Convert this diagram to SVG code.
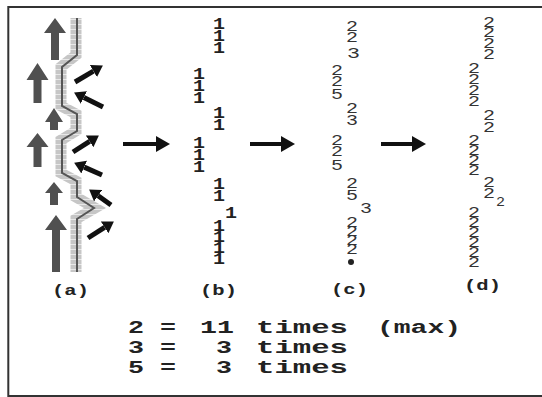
<svg xmlns="http://www.w3.org/2000/svg" width="542" height="397" viewBox="0 0 542 397">
<style>
.lab{font-family:"Liberation Mono","DejaVu Sans Mono",monospace;font-weight:bold;font-size:15px;fill:#222}
.one{font-family:"Liberation Mono","DejaVu Sans Mono",monospace;font-weight:bold;font-size:16px;fill:#222}
.two{font-family:"Liberation Mono","DejaVu Sans Mono",monospace;font-size:15px;fill:#333}
.cap{font-family:"Liberation Mono","DejaVu Sans Mono",monospace;font-weight:bold;font-size:18px;fill:#222}
.up{fill:#505050}
.bk{stroke:#111;stroke-width:5;fill:none}
.big{stroke:#111;stroke-width:4;fill:none}
</style>
<defs>
<marker id="hd" markerUnits="userSpaceOnUse" markerWidth="12" markerHeight="14" refX="0" refY="7" orient="auto"><path d="M0,0 L11,7 L0,14 z" fill="#111"/></marker>
<marker id="hb" markerUnits="userSpaceOnUse" markerWidth="15" markerHeight="16" refX="0" refY="8" orient="auto"><path d="M0,0 L14,8 L0,16 z" fill="#111"/></marker>
<pattern id="stripe" patternUnits="userSpaceOnUse" width="20" height="5"><rect width="20" height="5" fill="#c6c6c6"/><rect y="4" width="20" height="1" fill="#e8e8e8"/></pattern>
</defs>
<rect x="0" y="0" width="542" height="397" fill="#fff"/>
<rect x="8.3" y="7" width="545" height="389" fill="none" stroke="#333" stroke-width="2"/>

<g id="panel-a">
<polyline points="76,18 76,55 61,67 61,106 76,114 76,131 61,140 61,173 76,181 76,197 95,208 76,219 76,272" fill="none" stroke="url(#stripe)" stroke-width="11"/>
<polyline points="77,18 77,55 62,67 62,106 77,114 77,131 62,140 62,173 77,181 77,197 94,208 77,219 77,272" fill="none" stroke="#555" stroke-width="2"/>
<polygon class="up" points="55,18 66,33 59,33 59,60 51,60 51,33 44,33"/>
<polygon class="up" points="37.5,63 48.5,80 41.5,80 41.5,103 33.5,103 33.5,80 26.5,80"/>
<polygon class="up" points="54,108 63,122 58,122 58,130 50,130 50,122 45,122"/>
<polygon class="up" points="37.5,133 48.5,147 41.5,147 41.5,167 33.5,167 33.5,147 26.5,147"/>
<polygon class="up" points="54,182 63,193 58,193 58,205 50,205 50,193 45,193"/>
<polygon class="up" points="56,215 67,230 60,230 60,272 52,272 52,230 45,230"/>
<line class="bk" x1="75" y1="82" x2="93.4" y2="71.1" marker-end="url(#hd)"/>
<line class="bk" x1="103" y1="107" x2="83.9" y2="97.5" marker-end="url(#hd)"/>
<line class="bk" x1="73" y1="152" x2="89.6" y2="141.4" marker-end="url(#hd)"/>
<line class="bk" x1="102" y1="175" x2="84.2" y2="167.1" marker-end="url(#hd)"/>
<line class="bk" x1="111" y1="205" x2="98.1" y2="195.8" marker-end="url(#hd)"/>
<line class="bk" x1="88" y1="238" x2="104.6" y2="227.4" marker-end="url(#hd)"/>
<text class="lab" x="52" y="295" textLength="37" lengthAdjust="spacingAndGlyphs">(a)</text>
</g>

<g id="panel-b">
<text class="one" x="213" y="29" textLength="12" lengthAdjust="spacingAndGlyphs">1</text>
<text class="one" x="213" y="41" textLength="12" lengthAdjust="spacingAndGlyphs">1</text>
<text class="one" x="213" y="53" textLength="12" lengthAdjust="spacingAndGlyphs">1</text>
<text class="one" x="193" y="79" textLength="12" lengthAdjust="spacingAndGlyphs">1</text>
<text class="one" x="193" y="91" textLength="12" lengthAdjust="spacingAndGlyphs">1</text>
<text class="one" x="193" y="103" textLength="12" lengthAdjust="spacingAndGlyphs">1</text>
<text class="one" x="213" y="118" textLength="12" lengthAdjust="spacingAndGlyphs">1</text>
<text class="one" x="213" y="130" textLength="12" lengthAdjust="spacingAndGlyphs">1</text>
<text class="one" x="193" y="148" textLength="12" lengthAdjust="spacingAndGlyphs">1</text>
<text class="one" x="193" y="160" textLength="12" lengthAdjust="spacingAndGlyphs">1</text>
<text class="one" x="193" y="172" textLength="12" lengthAdjust="spacingAndGlyphs">1</text>
<text class="one" x="213" y="189" textLength="12" lengthAdjust="spacingAndGlyphs">1</text>
<text class="one" x="213" y="201" textLength="12" lengthAdjust="spacingAndGlyphs">1</text>
<text class="one" x="225" y="218" textLength="12" lengthAdjust="spacingAndGlyphs">1</text>
<text class="one" x="213" y="231" textLength="12" lengthAdjust="spacingAndGlyphs">1</text>
<text class="one" x="213" y="242" textLength="12" lengthAdjust="spacingAndGlyphs">1</text>
<text class="one" x="213" y="253" textLength="12" lengthAdjust="spacingAndGlyphs">1</text>
<text class="one" x="213" y="264" textLength="12" lengthAdjust="spacingAndGlyphs">1</text>
<text class="lab" x="200" y="295" textLength="37" lengthAdjust="spacingAndGlyphs">(b)</text>
</g>

<g id="panel-c">
<text class="two" x="346" y="31" textLength="12" lengthAdjust="spacingAndGlyphs">2</text>
<text class="two" x="346" y="42" textLength="12" lengthAdjust="spacingAndGlyphs">2</text>
<text class="two" x="347" y="58" textLength="13" lengthAdjust="spacingAndGlyphs">3</text>
<text class="two" x="331" y="75" textLength="12" lengthAdjust="spacingAndGlyphs">2</text>
<text class="two" x="331" y="86" textLength="12" lengthAdjust="spacingAndGlyphs">2</text>
<text class="two" x="331" y="99" textLength="12" lengthAdjust="spacingAndGlyphs">5</text>
<text class="two" x="346" y="113" textLength="12" lengthAdjust="spacingAndGlyphs">2</text>
<text class="two" x="346" y="125" textLength="12" lengthAdjust="spacingAndGlyphs">3</text>
<text class="two" x="331" y="145" textLength="12" lengthAdjust="spacingAndGlyphs">2</text>
<text class="two" x="331" y="156" textLength="12" lengthAdjust="spacingAndGlyphs">2</text>
<text class="two" x="331" y="170" textLength="12" lengthAdjust="spacingAndGlyphs">5</text>
<text class="two" x="346" y="188" textLength="12" lengthAdjust="spacingAndGlyphs">2</text>
<text class="two" x="346" y="200" textLength="12" lengthAdjust="spacingAndGlyphs">5</text>
<text class="two" x="360" y="213" textLength="12" lengthAdjust="spacingAndGlyphs">3</text>
<text class="two" x="346" y="227" textLength="12" lengthAdjust="spacingAndGlyphs">2</text>
<text class="two" x="346" y="236" textLength="12" lengthAdjust="spacingAndGlyphs">2</text>
<text class="two" x="346" y="245" textLength="12" lengthAdjust="spacingAndGlyphs">2</text>
<text class="two" x="346" y="254" textLength="12" lengthAdjust="spacingAndGlyphs">2</text>
<circle cx="351" cy="262" r="3" fill="#222"/>
<text class="lab" x="331" y="294" textLength="37" lengthAdjust="spacingAndGlyphs">(c)</text>
</g>

<g id="panel-d">
<text class="two" x="483" y="27" textLength="12" lengthAdjust="spacingAndGlyphs">2</text>
<text class="two" x="483" y="37" textLength="12" lengthAdjust="spacingAndGlyphs">2</text>
<text class="two" x="483" y="48" textLength="12" lengthAdjust="spacingAndGlyphs">2</text>
<text class="two" x="483" y="59" textLength="12" lengthAdjust="spacingAndGlyphs">2</text>
<text class="two" x="468" y="73" textLength="12" lengthAdjust="spacingAndGlyphs">2</text>
<text class="two" x="468" y="84" textLength="12" lengthAdjust="spacingAndGlyphs">2</text>
<text class="two" x="468" y="95" textLength="12" lengthAdjust="spacingAndGlyphs">2</text>
<text class="two" x="468" y="106" textLength="12" lengthAdjust="spacingAndGlyphs">2</text>
<text class="two" x="483" y="120" textLength="12" lengthAdjust="spacingAndGlyphs">2</text>
<text class="two" x="483" y="132" textLength="12" lengthAdjust="spacingAndGlyphs">2</text>
<text class="two" x="468" y="145" textLength="12" lengthAdjust="spacingAndGlyphs">2</text>
<text class="two" x="468" y="155" textLength="12" lengthAdjust="spacingAndGlyphs">2</text>
<text class="two" x="468" y="165" textLength="12" lengthAdjust="spacingAndGlyphs">2</text>
<text class="two" x="468" y="175" textLength="12" lengthAdjust="spacingAndGlyphs">2</text>
<text class="two" x="483" y="187" textLength="12" lengthAdjust="spacingAndGlyphs">2</text>
<text class="two" x="483" y="198" textLength="12" lengthAdjust="spacingAndGlyphs">2</text>
<text class="two" x="496" y="206" textLength="9" lengthAdjust="spacingAndGlyphs" style="font-size:12px">2</text>
<text class="two" x="468" y="217" textLength="12" lengthAdjust="spacingAndGlyphs">2</text>
<text class="two" x="468" y="227" textLength="12" lengthAdjust="spacingAndGlyphs">2</text>
<text class="two" x="468" y="237" textLength="12" lengthAdjust="spacingAndGlyphs">2</text>
<text class="two" x="468" y="247" textLength="12" lengthAdjust="spacingAndGlyphs">2</text>
<text class="two" x="468" y="257" textLength="12" lengthAdjust="spacingAndGlyphs">2</text>
<text class="two" x="468" y="267" textLength="12" lengthAdjust="spacingAndGlyphs">2</text>
<text class="lab" x="464" y="290" textLength="37" lengthAdjust="spacingAndGlyphs">(d)</text>
</g>

<g id="connectors">
<line class="big" x1="123" y1="144" x2="156" y2="144" marker-end="url(#hb)"/>
<line class="big" x1="250" y1="144" x2="281" y2="144" marker-end="url(#hb)"/>
<line class="big" x1="381" y1="144" x2="412" y2="144" marker-end="url(#hb)"/>
</g>

<g id="legend">
<text class="cap" x="128" y="333" textLength="16" lengthAdjust="spacingAndGlyphs">2</text>
<text class="cap" x="160" y="333" textLength="16" lengthAdjust="spacingAndGlyphs">=</text>
<text class="cap" x="200" y="333" textLength="34" lengthAdjust="spacingAndGlyphs">11</text>
<text class="cap" x="256" y="333" textLength="92" lengthAdjust="spacingAndGlyphs">times</text>
<text class="cap" x="377" y="333" textLength="84" lengthAdjust="spacingAndGlyphs">(max)</text>
<text class="cap" x="128" y="353" textLength="16" lengthAdjust="spacingAndGlyphs">3</text>
<text class="cap" x="160" y="353" textLength="16" lengthAdjust="spacingAndGlyphs">=</text>
<text class="cap" x="216" y="353" textLength="16" lengthAdjust="spacingAndGlyphs">3</text>
<text class="cap" x="256" y="353" textLength="92" lengthAdjust="spacingAndGlyphs">times</text>
<text class="cap" x="128" y="373" textLength="16" lengthAdjust="spacingAndGlyphs">5</text>
<text class="cap" x="160" y="373" textLength="16" lengthAdjust="spacingAndGlyphs">=</text>
<text class="cap" x="216" y="373" textLength="16" lengthAdjust="spacingAndGlyphs">3</text>
<text class="cap" x="256" y="373" textLength="92" lengthAdjust="spacingAndGlyphs">times</text>
</g>
</svg>
